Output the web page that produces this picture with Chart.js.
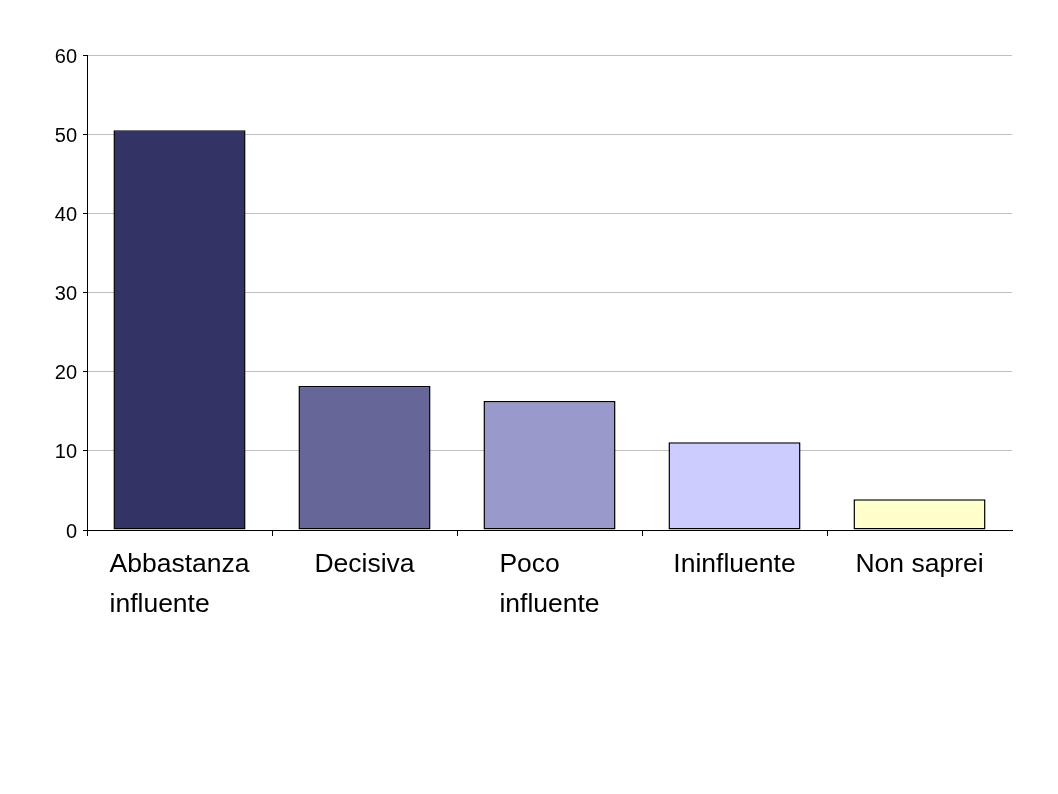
<!DOCTYPE html>
<html>
<head>
<meta charset="utf-8">
<script src="https://cdn.jsdelivr.net/npm/chart.js@4"></script>
<style>
  html, body { margin: 0; padding: 0; background: #fff; }
  #wrap { width: 1058px; height: 794px; }
</style>
</head>
<body>
<div id="wrap"><canvas id="barChart"></canvas></div>
<script>
// Dati
const categories = [['Abbastanza', 'influente'], ['Decisiva'], ['Poco', 'influente'], ['Ininfluente'], ['Non saprei']];
const values = [50.5, 18.2, 16.3, 11.1, 3.9];
const barColors = ['#333366', '#666699', '#9999cc', '#ccccff', '#ffffcc'];
const yTicks = [0, 10, 20, 30, 40, 50, 60];

const labelFont = '26.5px "Liberation Sans", Arial, sans-serif';

// Etichette categoria: righe allineate a sinistra, blocco centrato
const categoryLabels = {
    id: 'categoryLabels',
    afterDraw(chart) {
        const ctx = chart.ctx;
        const xScale = chart.scales.x;
        ctx.save();
        ctx.font = labelFont;
        ctx.fillStyle = '#000';
        ctx.textAlign = 'left';
        ctx.textBaseline = 'alphabetic';
        categories.forEach((lines, i) => {
            const cx = xScale.getPixelForValue(i);
            const w = Math.max(...lines.map(l => ctx.measureText(l).width));
            lines.forEach((line, j) => {
                ctx.fillText(line, cx - w / 2, chart.chartArea.bottom + 42 + j * 40);
            });
        });
        ctx.restore();
    }
};

const ctxBar = document.getElementById('barChart').getContext('2d');
const barChart = new Chart(ctxBar, {
    type: 'bar',
    data: {
        labels: categories.map(c => c.join(' ')),
        datasets: [{
            data: values,
            backgroundColor: barColors,
            borderColor: '#000',
            borderWidth: 1.5,
            borderSkipped: false,
            categoryPercentage: 1,
            barPercentage: 0.714,
        }]
    },
    options: {
        responsive: true,
        maintainAspectRatio: false,
        animation: false,
        layout: { padding: { left: 0, top: 55, right: 46, bottom: 0 } },
        plugins: { legend: { display: false }, tooltip: { enabled: false } },
        scales: {
            x: {
                offset: true,
                grid: {
                    offset: true,
                    drawOnChartArea: false,
                    tickLength: 6,
                    color: (c) => (c.tick ? '#000' : 'rgba(0,0,0,0)')
                },
                border: { color: '#000' },
                ticks: { display: false },
                afterFit(scale) { scale.height = 264; }
            },
            y: {
                min: 0,
                max: 60,
                afterBuildTicks(scale) { scale.ticks = yTicks.map(v => ({ value: v })); },
                grid: { color: '#c0c0c0', tickColor: '#000', tickLength: 4 },
                border: { color: '#000' },
                ticks: {
                    color: '#000',
                    padding: 6,
                    labelOffset: 2,
                    font: { family: '"Liberation Sans", Arial, sans-serif', size: 20 }
                },
                afterFit(scale) { scale.width = 87; }
            }
        }
    },
    plugins: [categoryLabels]
});
</script>
</body>
</html>
